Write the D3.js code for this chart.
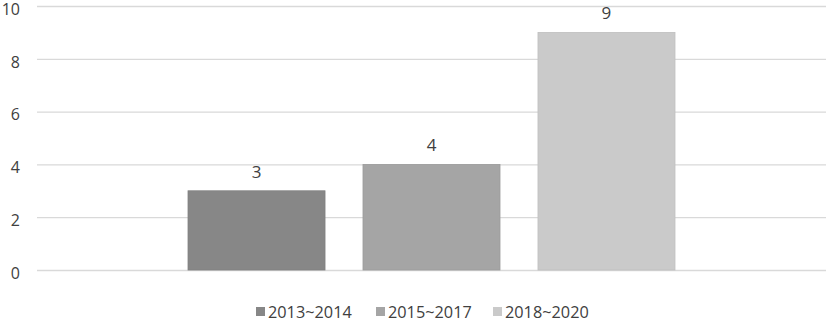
<!DOCTYPE html>
<html>
<head>
<meta charset="utf-8">
<script src="https://cdn.jsdelivr.net/npm/d3@7"></script>
<style>
    body { margin: 0; background: #fff; }
    text { font-family: "Open Sans", "Noto Sans", sans-serif; fill: #404040; }
</style>
</head>
<body>
<div id="chart"></div>
<script>
// chart data
const seriesNames = ["2013~2014", "2015~2017", "2018~2020"];
const seriesValues = [3, 4, 9];
const seriesColors = ["#878787", "#a5a5a5", "#cacaca"];
const yTicks = [0, 2, 4, 6, 8, 10];

const width = 829, height = 321;
const margin = {top: 6, right: 3, bottom: 51, left: 37};

let svg = d3.select("#chart").append("svg")
    .attr("width", width)
    .attr("height", height);

// scales
let x = d3.scaleBand()
    .domain(seriesNames)
    .range([margin.left, width - margin.right])
    .paddingInner(0.217)
    .paddingOuter(0.863);

let y = d3.scaleLinear()
    .domain([0, 10])
    .range([height - margin.bottom, margin.top]);

// gridlines + labels via axis
let yAxis = d3.axisLeft(y)
    .tickValues(yTicks)
    .tickSize(-(width - margin.left - margin.right))
    .tickPadding(17);

let gy = svg.append("g")
    .attr("class", "y-axis")
    .attr("transform", `translate(${margin.left},0)`)
    .call(yAxis);
gy.select(".domain").remove();
gy.selectAll("line")
    .attr("stroke", "#d9d9d9")
    .attr("stroke-width", 1.3);
gy.selectAll("text")
    .attr("font-size", 16)
    .attr("dy", "0.52em")
    .attr("font-family", "Open Sans, Noto Sans, sans-serif")
    .attr("fill", "#404040");

// bars
svg.selectAll(".bar")
    .data(seriesNames)
    .enter().append("rect")
    .attr("class", "bar")
    .attr("x", d => x(d))
    .attr("width", x.bandwidth())
    .attr("y", (d, i) => y(seriesValues[i]))
    .attr("height", (d, i) => y(0) - y(seriesValues[i]))
    .attr("fill", (d, i) => seriesColors[i])
    .attr("stroke", (d, i) => d3.color(seriesColors[i]).darker(0.15))
    .attr("stroke-width", 0.8);

// value labels
svg.selectAll(".value")
    .data(seriesNames)
    .enter().append("text")
    .attr("class", "value")
    .attr("x", d => x(d) + x.bandwidth() / 2)
    .attr("y", (d, i) => y(seriesValues[i]) - 13)
    .attr("text-anchor", "middle")
    .attr("font-size", 17)
    .text((d, i) => seriesValues[i]);

// legend
let legendX = [256, 376, 493];
let legend = svg.append("g").attr("class", "legend");
seriesNames.forEach((name, i) => {
    legend.append("rect")
        .attr("x", legendX[i])
        .attr("y", 307)
        .attr("width", 9)
        .attr("height", 9)
        .attr("fill", seriesColors[i]);
    legend.append("text")
        .attr("x", legendX[i] + 12)
        .attr("y", 317.5)
        .attr("font-size", 16.3)
        .text(name);
});
</script>
</body>
</html>
